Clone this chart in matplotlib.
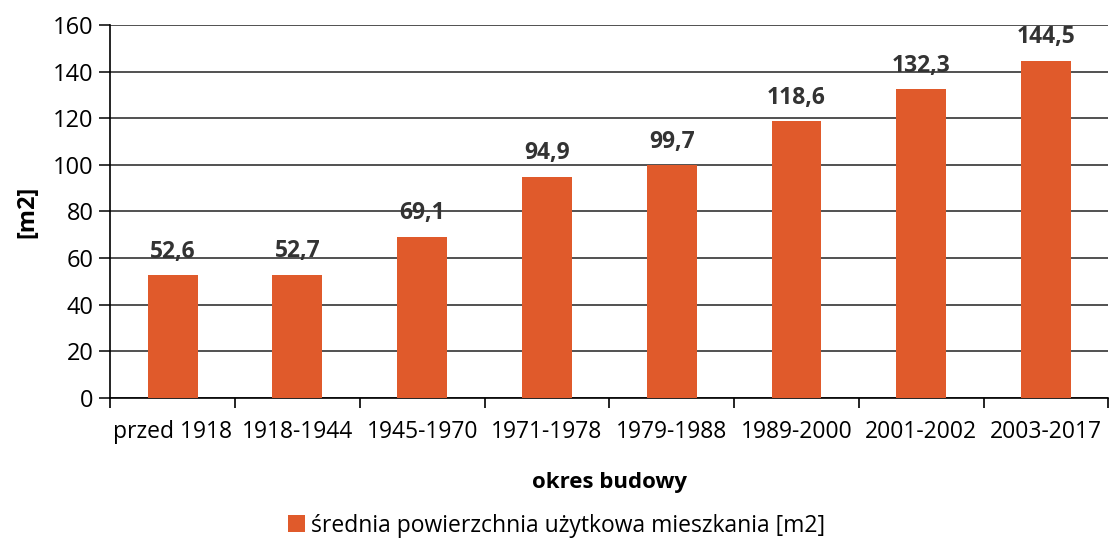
import matplotlib.pyplot as plt
import numpy as np

# dane z wykresu
okresy = ["przed 1918", "1918-1944", "1945-1970", "1971-1978",
          "1979-1988", "1989-2000", "2001-2002", "2003-2017"]
powierzchnia = [52.6, 52.7, 69.1, 94.9, 99.7, 118.6, 132.3, 144.5]
etykiety = ["52,6", "52,7", "69,1", "94,9", "99,7", "118,6", "132,3", "144,5"]

plt.rcParams['font.family'] = ['Open Sans', 'DejaVu Sans']

fig = plt.figure(figsize=(11.14, 5.42), dpi=100)
ax = fig.add_axes([0.099, 0.266, 0.896, 0.688])

x = np.arange(len(okresy))
bars = ax.bar(x, powierzchnia, width=0.4, color="#E05A2B", zorder=3,
              label="średnia powierzchnia użytkowa mieszkania [m2]")

for b, t in zip(bars, etykiety):
    ax.text(b.get_x() + b.get_width() / 2, b.get_height() + 5, t,
            ha="center", va="bottom", fontsize=16.5, fontweight="bold", color="#333333")

ax.set_ylim(0, 160)
ax.set_yticks(range(0, 161, 20))
ax.set_xlim(-0.5, len(okresy) - 0.5)
ax.yaxis.grid(True, color="#222222", linewidth=1.1, zorder=0)
ax.set_xticks(x)
ax.set_xticklabels(okresy, fontsize=16.5)
ax.set_xticks(np.arange(-0.5, len(okresy)), minor=True)
ax.tick_params(axis="x", which="major", length=0, pad=16)
ax.tick_params(axis="x", which="minor", length=7, width=1.2)
ax.tick_params(axis="y", length=8, width=1.1, labelsize=17, pad=4)

for s in ["top", "right"]:
    ax.spines[s].set_visible(False)
ax.spines["left"].set_linewidth(1.2)
ax.spines["bottom"].set_linewidth(1.2)

ax.set_ylabel("[m2]", fontsize=17, fontweight="bold", labelpad=10)
ax.set_xlabel("okres budowy", fontsize=16, fontweight="bold", labelpad=20)

fig.legend(handles=[bars], loc="lower center", bbox_to_anchor=(0.5, -0.03),
           frameon=False, fontsize=16.5, handlelength=0.7, handleheight=0.8,
           handletextpad=0.3)

fig.savefig("out.png", dpi=100)
